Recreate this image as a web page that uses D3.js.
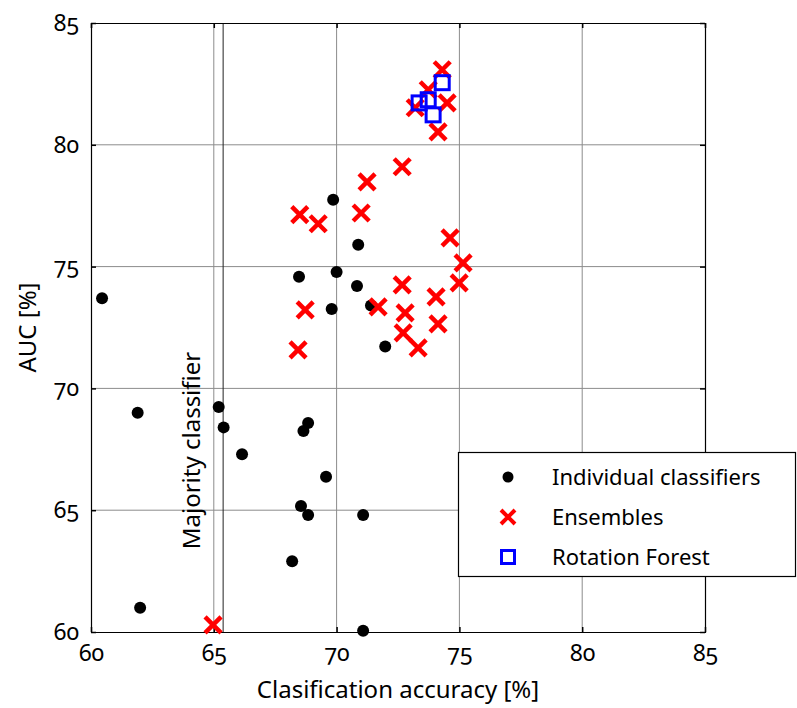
<!DOCTYPE html>
<html>
    <head>
        <meta charset="utf-8">
        <title>AUC vs accuracy</title>
        <style type="text/css">
          body { margin: 0; background: #fff; }
          text {
            font-family: "Noto Sans", "Open Sans", sans-serif;
            font-variant-numeric: oldstyle-nums;
            fill: #000;
          }
          .grid line { stroke: #8c8c8c; stroke-width: 1; }
        </style>
        <script src="https://d3js.org/d3.v7.min.js" charset="utf-8"></script>
    </head>
    <body>
    <script>
        // data: [accuracy %, AUC %]
        var individualAcc = [60.45, 61.9, 62.0, 65.2, 65.4, 66.15, 68.84, 68.65, 69.57, 68.55, 68.84,
                             71.08, 68.19, 71.08, 69.8, 70.83, 71.4, 71.98, 68.47, 69.86, 70.88, 70.0];
        var individualAuc = [73.7, 69.0, 61.0, 69.24, 68.4, 67.3, 68.58, 68.25, 66.37, 65.17, 64.8,
                             64.8, 62.9, 60.05, 73.26, 74.2, 73.4, 71.72, 74.58, 77.74, 75.9, 74.78];

        var ensembleAcc = [74.3, 73.73, 74.5, 73.2, 74.13, 72.67, 71.24, 68.5, 69.25, 71.0, 74.62, 75.15,
                           74.99, 72.67, 74.05, 71.69, 68.72, 72.79, 74.13, 72.71, 73.32, 68.43, 64.97];
        var ensembleAuc = [83.08, 82.26, 81.72, 81.52, 80.53, 79.1, 78.48, 77.13, 76.76, 77.2, 76.18, 75.15,
                           74.33, 74.25, 73.76, 73.35, 73.22, 73.1, 72.65, 72.28, 71.66, 71.58, 60.29];

        var rotationAcc = [74.3, 73.36, 73.73, 73.93];
        var rotationAuc = [82.55, 81.72, 81.85, 81.23];

        var majorityAcc = 65.38;
        var ticks = [60, 65, 70, 75, 80, 85];
        var legendNames = ["Individual classifiers", "Ensembles", "Rotation Forest"];

        // margin
        var margin = {top: 23, right: 92, bottom: 76, left: 91},
            width = 797 - margin.left - margin.right,
            height = 708 - margin.top - margin.bottom;

        var x = d3.scaleLinear().domain([60, 85]).range([0, width]);
        var y = d3.scaleLinear().domain([60, 85]).range([height, 0]);

        var svgRoot = d3.select("body").append("svg")
            .attr("width", 797)
            .attr("height", 708);

        var svg = svgRoot.append("g")
            .attr("transform", "translate(" + margin.left + "," + margin.top + ")");

        // grid lines
        var grid = svg.append("g").attr("class", "grid");
        grid.selectAll(".gx")
            .data(ticks.slice(1, -1))
            .enter().append("line")
              .attr("x1", function(d) { return x(d); })
              .attr("x2", function(d) { return x(d); })
              .attr("y1", 0)
              .attr("y2", height);
        grid.selectAll(".gy")
            .data(ticks.slice(1, -1))
            .enter().append("line")
              .attr("y1", function(d) { return y(d); })
              .attr("y2", function(d) { return y(d); })
              .attr("x1", 0)
              .attr("x2", width);

        // majority classifier line
        svg.append("line")
            .attr("x1", x(majorityAcc))
            .attr("x2", x(majorityAcc))
            .attr("y1", 0)
            .attr("y2", height)
            .attr("stroke", "#222")
            .attr("stroke-width", 1);

        svg.append("text")
            .attr("transform", "translate(" + (x(majorityAcc) - 23) + "," + y(67.45) + ") rotate(-90)")
            .attr("text-anchor", "middle")
            .style("font-size", "24px")
            .text("Majority classifier");

        // axes, MATLAB style box with inward ticks on all sides
        var xAxis = d3.axisBottom(x).tickValues(ticks).tickSizeInner(-5).tickSizeOuter(0).tickPadding(13);
        var yAxis = d3.axisLeft(y).tickValues(ticks).tickSizeInner(-5).tickSizeOuter(0).tickPadding(12);

        var gx = svg.append("g")
            .attr("transform", "translate(0," + height + ")")
            .call(xAxis);
        var gy = svg.append("g").call(yAxis);
        svg.append("g").call(d3.axisTop(x).tickValues(ticks).tickSize(-5).tickFormat(""));
        svg.append("g").attr("transform", "translate(" + width + ",0)")
            .call(d3.axisRight(y).tickValues(ticks).tickSize(-5).tickFormat(""));

        svg.selectAll(".domain").attr("stroke", "#000").attr("stroke-width", 1.2);
        svg.selectAll(".tick line").attr("stroke", "#000").attr("stroke-width", 1.5);
        gx.selectAll("text").style("font-size", "23px");
        gy.selectAll("text").style("font-size", "23px");
        svg.selectAll(".tick text").attr("fill", "#000");

        // axis titles
        svg.append("text")
            .attr("x", width / 2)
            .attr("y", height + 66)
            .attr("text-anchor", "middle")
            .style("font-size", "24px")
            .text("Clasification accuracy [%]");

        svg.append("text")
            .attr("transform", "translate(" + (-55) + "," + (height / 2) + ") rotate(-90)")
            .attr("text-anchor", "middle")
            .style("font-size", "24px")
            .text("AUC [%]");

        // points
        var individual = individualAcc.map(function(d, i) { return {x: d, y: individualAuc[i]}; });
        var ensembles = ensembleAcc.map(function(d, i) { return {x: d, y: ensembleAuc[i]}; });
        var rotation = rotationAcc.map(function(d, i) { return {x: d, y: rotationAuc[i]}; });

        var crossPath = "M-8,-8L8,8M-8,8L8,-8";

        svg.append("g").selectAll("circle")
            .data(individual)
            .enter().append("circle")
              .attr("cx", function(d) { return x(d.x); })
              .attr("cy", function(d) { return y(d.y); })
              .attr("r", 6)
              .attr("fill", "#000");

        svg.append("g").selectAll("path")
            .data(ensembles)
            .enter().append("path")
              .attr("transform", function(d) { return "translate(" + x(d.x) + "," + y(d.y) + ")"; })
              .attr("d", crossPath)
              .attr("stroke", "#ff0000")
              .attr("stroke-width", 4.5);

        svg.append("g").selectAll("rect")
            .data(rotation)
            .enter().append("rect")
              .attr("x", function(d) { return x(d.x) - 7; })
              .attr("y", function(d) { return y(d.y) - 7; })
              .attr("width", 14)
              .attr("height", 14)
              .attr("fill", "none")
              .attr("stroke", "#0000ff")
              .attr("stroke-width", 3);

        // legend
        var legend = svgRoot.append("g").attr("transform", "translate(458,452)");
        legend.append("rect")
            .attr("x", 0.5)
            .attr("y", 0.5)
            .attr("width", 337)
            .attr("height", 124)
            .attr("fill", "#fff")
            .attr("stroke", "#000")
            .attr("stroke-width", 1.2);

        var rows = legend.selectAll(".row")
            .data(legendNames)
            .enter().append("g")
              .attr("transform", function(d, i) { return "translate(0," + (25 + i * 40) + ")"; });

        rows.append("text")
            .attr("x", 94)
            .attr("dy", "0.35em")
            .style("font-size", "22px")
            .text(function(d) { return d; });

        rows.filter(function(d, i) { return i == 0; }).append("circle")
            .attr("cx", 50).attr("r", 5.5).attr("fill", "#000");
        rows.filter(function(d, i) { return i == 1; }).append("path")
            .attr("transform", "translate(50,0)")
            .attr("d", "M-7,-7L7,7M-7,7L7,-7")
            .attr("stroke", "#ff0000").attr("stroke-width", 4);
        rows.filter(function(d, i) { return i == 2; }).append("rect")
            .attr("x", 43.5).attr("y", -6.5).attr("width", 13).attr("height", 13)
            .attr("fill", "none").attr("stroke", "#0000ff").attr("stroke-width", 3);
    </script>
    </body>
</html>
